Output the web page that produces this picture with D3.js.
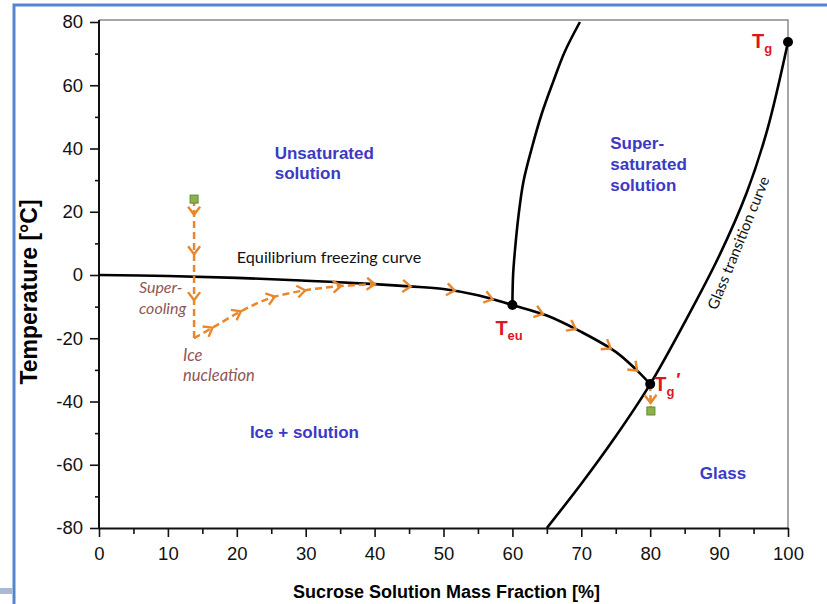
<!DOCTYPE html>
<html>
<head>
<meta charset="utf-8">
<script src="https://cdn.jsdelivr.net/npm/d3@7"></script>
<style>
  body { margin: 0; background: #fff; }
  text { font-family: "Liberation Sans", Arial, sans-serif; }
  .note { font-family: Lato, "Open Sans", sans-serif; }
</style>
</head>
<body>
<svg id="chart" width="827" height="604"></svg>
<script>
// ticks
var xTicks = [0, 10, 20, 30, 40, 50, 60, 70, 80, 90, 100];
var xMinorTicks = [5, 15, 25, 35, 45, 55, 65, 75, 85, 95];
var yTicks = [-80, -60, -40, -20, 0, 20, 40, 60, 80];
var yMinorTicks = [-70, -50, -30, -10, 10, 30, 50, 70];

// curves: [mass fraction %, temperature °C]
var freezingCurve = [[0, 0], [10, -0.3], [20, -0.9], [30, -1.8], [40, -2.9], [45, -3.6], [50, -4.4],
  [55, -6.4], [60, -9.5], [65, -12.8], [70, -18], [75, -24.3], [78, -30], [80, -34.5]];
var solubilityCurve = [[60, -9.5], [60.1, 0], [60.4, 8.5], [60.9, 19], [61.6, 29.5], [62.8, 40],
  [64.2, 50.6], [65.9, 61], [67.6, 70.6], [69.8, 80]];
var glassCurve = [[65, -80], [70, -66], [75, -51], [80, -34.5], [85, -15], [90, 6], [94, 26], [97, 46], [100, 73.7]];

// freezing process path
var coolingPath = [[13.8, 24], [13.8, -20]];
var nucleationPath = [[13.8, -20], [17, -16], [21, -11], [25, -7.2], [30, -4.8], [35, -3.5], [40, -2.9]];
var glassDropPath = [[80, -34.5], [80.1, -43]];
var startEnd = [[13.8, 24], [80.1, -43]];

// arrow heads along the paths
var coolingArrowsT = [20, 7.5, -7];
var nucleationArrowsX = [16.1, 20.2, 25.1, 29.5, 34.7];
var freezingArrowsX = [39.6, 44.8, 51.2, 56.7, 64, 68.8, 73.9, 77.8];
var glassDropArrowsT = [-39.5];

var points = [{name: 'Tg', x: 100, t: 73.7}, {name: 'Teu', x: 60, t: -9.5}, {name: "Tg'", x: 80, t: -34.5}];

var margin = {top: 22, right: 39, bottom: 76, left: 99},
    width = 827, height = 604;

var svg = d3.select('#chart');

var x = d3.scaleLinear().domain([0, 100]).range([margin.left, width - margin.right]);
var y = d3.scaleLinear().domain([-80, 80]).range([height - margin.bottom, margin.top]);

// outer blue frame
svg.append('rect').attr('x', 14).attr('y', 5).attr('width', 900).attr('height', 700)
  .attr('fill', 'none').attr('stroke', '#5585cc').attr('stroke-width', 3);
svg.append('rect').attr('x', 0).attr('y', 588).attr('width', 13).attr('height', 6)
  .attr('fill', '#a9b9d6');

// plot frame (top + right)
var frameTop = y(80) - 2;
svg.append('path')
  .attr('d', `M${x(0)},${frameTop}H${x(100)}V${y(-80)}`)
  .attr('fill', 'none').attr('stroke', '#8a8a8a').attr('stroke-width', 1.5);

// axes
var fmt = d => String(d);
svg.append('g').attr('transform', `translate(0,${y(-80)})`)
  .call(d3.axisBottom(x).tickValues(xTicks).tickFormat(fmt).tickSize(9).tickPadding(10).tickSizeOuter(0));
svg.append('g').attr('transform', `translate(0,${y(-80)})`)
  .call(d3.axisBottom(x).tickValues(xMinorTicks).tickSize(6).tickFormat(''))
  .call(g => g.select('.domain').remove());
var yAxis = svg.append('g').attr('transform', `translate(${x(0)},0)`)
  .call(d3.axisLeft(y).tickValues(yTicks).tickFormat(fmt).tickSize(9).tickPadding(7).tickSizeOuter(0));
svg.append('g').attr('transform', `translate(${x(0)},0)`)
  .call(d3.axisLeft(y).tickValues(yMinorTicks).tickSize(4).tickFormat(''))
  .call(g => g.select('.domain').remove());
yAxis.select('.domain').attr('d', `M0,${frameTop}V${y(-80)}`);

svg.selectAll('.domain').attr('stroke', '#111').attr('stroke-width', 2);
svg.selectAll('.tick line').attr('stroke', '#111').attr('stroke-width', 1.6);
svg.selectAll('.tick text').attr('font-family', '"Liberation Sans", Arial, sans-serif')
  .attr('font-size', 18.5).attr('fill', '#111');

svg.append('text')
  .attr('x', (x(0) + x(100)) / 2 + 3).attr('y', 598)
  .attr('text-anchor', 'middle').attr('font-weight', 'bold').attr('font-size', 18)
  .text('Sucrose Solution Mass Fraction [%]');
svg.append('text')
  .attr('transform', 'translate(37,292) rotate(-90)')
  .attr('text-anchor', 'middle').attr('font-weight', 'bold').attr('font-size', 23)
  .text('Temperature [°C]');

// curves
svg.append('clipPath').attr('id', 'plot-area').append('rect')
  .attr('x', x(0)).attr('y', frameTop).attr('width', x(100) - x(0) + 6).attr('height', y(-80) - frameTop);

var line = d3.line().x(d => x(d[0])).y(d => y(d[1])).curve(d3.curveCatmullRom.alpha(0.5));
var plot = svg.append('g').attr('clip-path', 'url(#plot-area)');

var curves = {};
[['freezing', freezingCurve], ['solubility', solubilityCurve], ['glass', glassCurve]].forEach(function(c) {
  curves[c[0]] = plot.append('path').datum(c[1])
    .attr('d', line).attr('fill', 'none').attr('stroke', '#000').attr('stroke-width', 2.6);
});

var orange = '#e8872e';
var paths = {};
[['cooling', coolingPath], ['nucleation', nucleationPath], ['drop', glassDropPath]].forEach(function(c) {
  paths[c[0]] = svg.append('path').datum(c[1])
    .attr('d', line).attr('fill', 'none').attr('stroke', orange)
    .attr('stroke-width', 2.5).attr('stroke-dasharray', '7,4');
});

// find the point on a rendered path where a coordinate reaches a value
function placeOnPath(node, key, value) {
  var L = node.getTotalLength(), lo = 0, hi = L;
  var inc = node.getPointAtLength(L)[key] > node.getPointAtLength(0)[key];
  for (var i = 0; i < 40; i++) {
    var mid = (lo + hi) / 2, p = node.getPointAtLength(mid);
    if ((p[key] < value) === inc) lo = mid; else hi = mid;
  }
  var s = (lo + hi) / 2,
      p0 = node.getPointAtLength(Math.max(0, s - 2)),
      p1 = node.getPointAtLength(Math.min(L, s + 2)),
      p = node.getPointAtLength(s);
  return {x: p.x, y: p.y, a: Math.atan2(p1.y - p0.y, p1.x - p0.x) * 180 / Math.PI};
}

var arrows = [];
coolingArrowsT.forEach(t => arrows.push(placeOnPath(paths.cooling.node(), 'y', y(t))));
nucleationArrowsX.forEach(v => arrows.push(placeOnPath(paths.nucleation.node(), 'x', x(v))));
freezingArrowsX.forEach(v => arrows.push(placeOnPath(curves.freezing.node(), 'x', x(v))));
glassDropArrowsT.forEach(t => arrows.push(placeOnPath(paths.drop.node(), 'y', y(t))));

svg.append('g').selectAll('path').data(arrows).join('path')
  .attr('d', 'M-5,-6L3,0L-5,6')
  .attr('transform', d => `translate(${d.x},${d.y}) rotate(${d.a})`)
  .attr('fill', 'none').attr('stroke', orange).attr('stroke-width', 2.4)
  .attr('stroke-linejoin', 'miter');

// start / end states
svg.append('g').selectAll('rect').data(startEnd).join('rect')
  .attr('x', d => x(d[0]) - 4).attr('y', d => y(d[1]) - 4)
  .attr('width', 8).attr('height', 8)
  .attr('fill', '#8db14c').attr('stroke', '#5f8a2e').attr('stroke-width', 1);

// characteristic points
svg.append('g').selectAll('circle').data(points).join('circle')
  .attr('cx', d => x(d.x)).attr('cy', d => y(d.t)).attr('r', 5).attr('fill', '#000');

// point labels
var red = '#e0161f';
function tLabel(px, py, sub, prime) {
  var t = svg.append('text').attr('x', px).attr('y', py)
    .attr('fill', red).attr('font-weight', 'bold').attr('font-size', 20);
  t.append('tspan').text('T');
  t.append('tspan').attr('dy', 5).attr('font-size', 13).text(sub);
  if (prime) t.append('tspan').attr('dy', -10).attr('dx', 2).attr('font-size', 18).text('′');
}
tLabel(x(100) - 36, y(73.7) + 6, 'g');
tLabel(x(60) - 17, y(-9.5) + 30, 'eu');
tLabel(x(80) + 4, y(-34.5) + 7, 'g', true);

// region labels
var blue = '#3a3ac6';
function block(lines, xv, tv, opts) {
  var t = svg.append('text').attr('x', x(xv)).attr('y', y(tv))
    .attr('fill', opts.fill).attr('font-size', opts.size)
    .attr('font-weight', opts.weight || 'normal')
    .attr('font-style', opts.style || 'normal')
    .attr('class', opts.cls || null);
  lines.forEach(function(l, i) {
    t.append('tspan').attr('x', x(xv)).attr('dy', i ? opts.lh : 0).text(l);
  });
  return t;
}
block(['Unsaturated', 'solution'], 25.5, 36.7, {fill: blue, size: 17, weight: 'bold', lh: 20});
block(['Super-', 'saturated', 'solution'], 74.2, 39.8, {fill: blue, size: 17, weight: 'bold', lh: 21});
block(['Ice + solution'], 21.9, -51.5, {fill: blue, size: 17, weight: 'bold'});
block(['Glass'], 87.2, -64.5, {fill: blue, size: 17, weight: 'bold'});

block(['Equilibrium freezing curve'], 20, 3.8, {fill: '#111', size: 16.2, cls: 'note'});
block(['Super-', 'cooling'], 5.8, -5.7, {fill: '#8e5656', size: 16, style: 'italic', lh: 21, cls: 'note'});
block(['Ice', 'nucleation'], 12.2, -27.2, {fill: '#8e5656', size: 16.5, style: 'italic', lh: 20, cls: 'note'});

svg.append('text').attr('class', 'note')
  .attr('transform', `translate(${x(93.5)},${y(9.5)}) rotate(-68)`)
  .attr('text-anchor', 'middle').attr('font-size', 15).attr('fill', '#111')
  .text('Glass transition curve');
</script>
</body>
</html>
